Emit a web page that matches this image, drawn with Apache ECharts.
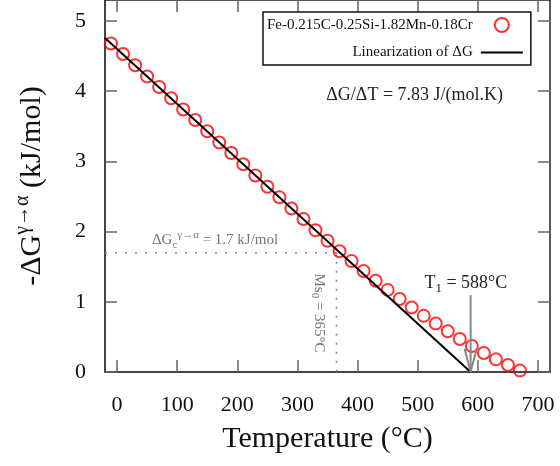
<!DOCTYPE html>
<html><head><meta charset="utf-8">
<script src="https://cdn.jsdelivr.net/npm/echarts@6/dist/echarts.min.js"></script>
<style>html,body{margin:0;padding:0;background:#fff}#c{width:560px;height:466px}</style>
</head><body><div id="c"></div><script>
// ---- data ----
const temperature = [-10,10,30,50,70,90,110,130,150,170,190,210,230,250,270,290,310,330,350,370,390,410,430,450,470,490,510,530,550,570,590,610,630,650,670];
const minusDG = [4.68,4.53,4.37,4.21,4.06,3.90,3.74,3.59,3.43,3.27,3.12,2.96,2.80,2.64,2.49,2.33,2.18,2.02,1.87,1.72,1.58,1.44,1.30,1.17,1.04,0.92,0.80,0.69,0.58,0.47,0.37,0.27,0.18,0.10,0.02];
const linT = [-20, 588];
const linG = [4.76, 0];
const dGcT = [-20, 365];
const dGcG = [1.7, 1.7];
const msT = [365, 365];
const msG = [1.7, 0];
const arrowT = [588, 588];
const arrowG = [1.095, 0];
const headT = [578, 588, 598];
const headG = [0.33, 0, 0.33];
const xTicks = [0,100,200,300,400,500,600,700];
const yTicks = [0,1,2,3,4,5];
const seriesNames = ['Fe-0.215C-0.25Si-1.82Mn-0.18Cr', 'Linearization of ΔG'];

const zip = (a, b) => a.map((v, i) => [v, b[i]]);
const FONT = '"Liberation Serif", "DejaVu Serif", serif';
const AX = '#444';

const chart = echarts.init(document.getElementById('c'), null, {renderer: 'canvas'});
const xBase = {
  type: 'value', min: -20, max: 720,
  splitLine: {show: false},
  axisLine: {show: true, onZero: false, lineStyle: {color: AX, width: 2}},
  axisTick: {show: true, inside: true, length: 12, customValues: xTicks, lineStyle: {color: '#666', width: 1.5}},
};
const yBase = {
  type: 'value', min: 0, max: 5.3,
  splitLine: {show: false},
  axisLine: {show: true, onZero: false, lineStyle: {color: AX, width: 2}},
  axisTick: {show: true, inside: true, length: 12, customValues: yTicks, lineStyle: {color: '#666', width: 1.5}},
};
chart.setOption({
  animation: false,
  backgroundColor: '#fff',
  grid: {left: 105, right: 10, top: -1, bottom: 94, containLabel: false},
  xAxis: [
    Object.assign({}, xBase, {position: 'bottom',
      axisLabel: {show: true, customValues: xTicks, margin: 22, fontSize: 22, color: '#111', fontFamily: FONT},
      name: 'Temperature (°C)', nameLocation: 'middle', nameGap: 52,
      nameTextStyle: {fontSize: 30, color: '#111', fontFamily: FONT}}),
    Object.assign({}, xBase, {position: 'top', axisLabel: {show: false}, axisLine: {show: true, onZero: false, lineStyle: {color: '#222', width: 1.5}}})
  ],
  yAxis: [
    Object.assign({}, yBase, {position: 'left',
      axisLabel: {show: true, customValues: yTicks, margin: 19, fontSize: 22, color: '#111', fontFamily: FONT},
      name: '-ΔG{sup|γ→α} (kJ/mol)', nameLocation: 'middle', nameGap: 54, nameRotate: 90,
      nameTextStyle: {fontSize: 30, color: '#111', fontFamily: FONT, lineHeight: 38,
        rich: {sup: {fontSize: 20, fontFamily: FONT, color: '#111', verticalAlign: 'top', lineHeight: 22}}}}),
    Object.assign({}, yBase, {position: 'right', axisLabel: {show: false}, axisLine: {show: true, onZero: false, lineStyle: {color: '#222', width: 1.5}}})
  ],
  legend: {
    data: [
      {name: seriesNames[0]},
      {name: seriesNames[1], icon: 'path://M0,0 L42,0 L42,2 L0,2 Z', itemStyle: {color: '#000', borderWidth: 0}}
    ],
    orient: 'vertical', align: 'right',
    left: 263, top: 12,
    backgroundColor: '#fff',
    borderColor: '#111', borderWidth: 1.5, borderRadius: 0,
    padding: [5, 8, 5, 4],
    itemWidth: 42, itemHeight: 14, itemGap: 12,
    selectedMode: false,
    textStyle: {fontSize: 15, fontFamily: FONT, color: '#111', width: 204, align: 'right', lineHeight: 14, padding: [0, 3, 0, 0]}
  },
  series: [
    {name: seriesNames[0], type: 'scatter', data: zip(temperature, minusDG), symbol: 'circle', symbolSize: 12,
     itemStyle: {color: 'rgba(255,255,255,0)', borderColor: '#ff0000', borderWidth: 2}, z: 2},
    {name: seriesNames[1], type: 'line', data: zip(linT, linG), symbol: 'none', color: '#000', itemStyle: {color: '#000'}, lineStyle: {color: '#000', width: 2}, z: 3},
    {name: 'dGc', type: 'line', data: zip(dGcT, dGcG), symbol: 'none', lineStyle: {color: '#888', width: 1.6, type: [2, 8]}, z: 1},
    {name: 'Ms0', type: 'line', data: zip(msT, msG), symbol: 'none', lineStyle: {color: '#888', width: 1.6, type: [2, 7]}, z: 1},
    {name: 'arrow', type: 'line', data: zip(arrowT, arrowG), symbol: 'none', lineStyle: {color: '#888', width: 2}, z: 4},
    {name: 'head', type: 'line', data: zip(headT, headG), symbol: 'none', lineStyle: {color: '#888', width: 2}, z: 4}
  ]
});

const P = (x, y) => chart.convertToPixel({xAxisIndex: 0, yAxisIndex: 0}, [x, y]);
const pSlope = P(348, 3.94);
const pDgc = P(58, 1.88);
const pT1 = P(580, 1.27);
const pMs = P(336, 0.84);
chart.setOption({
  graphic: [
    {type: 'text', x: pSlope[0], y: pSlope[1], z: 10, style: {text: 'ΔG/ΔT = 7.83 J/(mol.K)', fontSize: 18, fontFamily: FONT, fill: '#222', align: 'left', verticalAlign: 'middle'}},
    {type: 'text', x: pDgc[0], y: pDgc[1], z: 10, style: {text: 'ΔG{sub|c}{sup|γ→α} = 1.7 kJ/mol', fontSize: 15, fontFamily: FONT, fill: '#777', align: 'left', verticalAlign: 'middle', lineHeight: 21,
      rich: {sub: {fontSize: 11, fontFamily: FONT, fill: '#777', verticalAlign: 'bottom', lineHeight: 11}, sup: {fontSize: 11, fontFamily: FONT, fill: '#777', verticalAlign: 'top', lineHeight: 11}}}},
    {type: 'text', x: pT1[0], y: pT1[1], z: 10, style: {text: 'T{sub|1} = 588°C', fontSize: 18, fontFamily: FONT, fill: '#222', align: 'center', verticalAlign: 'middle', lineHeight: 24,
      rich: {sub: {fontSize: 13, fontFamily: FONT, fill: '#222', verticalAlign: 'bottom', lineHeight: 13}}}},
    {type: 'text', x: pMs[0], y: pMs[1], rotation: -Math.PI / 2, z: 10, style: {text: 'Ms{sub|0} = 365°C', fontSize: 15, fontFamily: FONT, fill: '#777', align: 'center', verticalAlign: 'middle', lineHeight: 20,
      rich: {sub: {fontSize: 11, fontFamily: FONT, fill: '#777', verticalAlign: 'bottom', lineHeight: 11}}}}
  ]
});
</script></body></html>
